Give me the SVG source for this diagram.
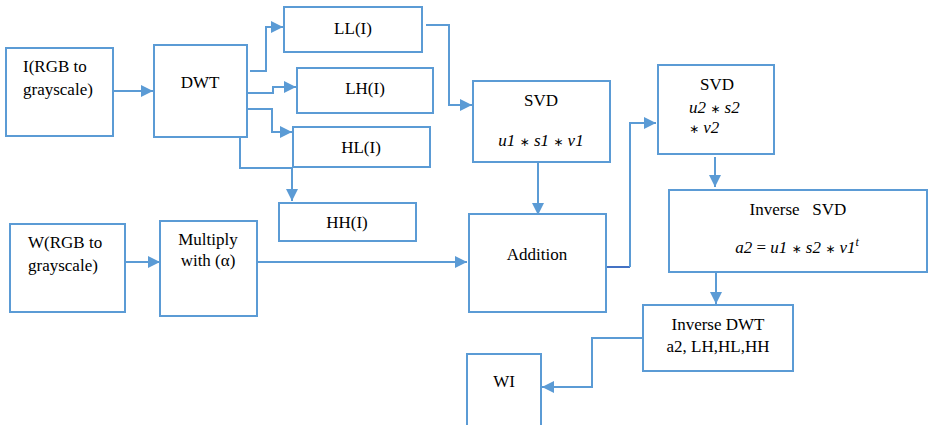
<svg xmlns="http://www.w3.org/2000/svg" width="928" height="425" viewBox="0 0 928 425">
<style>
.box{fill:#fff;stroke:#5B9BD5;stroke-width:2}
.ln{fill:none;stroke:#5B9BD5;stroke-width:2}
text{font-family:'Liberation Serif','Times New Roman','DejaVu Serif',serif;font-size:17px;fill:#000}
.m{font-style:italic}
.op{font-style:normal;font-family:'DejaVu Sans',sans-serif;font-size:12px}
.c{text-anchor:middle}
</style>
<defs>
<marker id="ah" markerUnits="userSpaceOnUse" markerWidth="13" markerHeight="13" refX="12" refY="6" orient="auto">
<path d="M0,0 L12,6 L0,12 z" fill="#5B9BD5"/>
</marker>
</defs>
<rect width="928" height="425" fill="#fff"/>
<g id="connectors">
<path class="ln" d="M113,91 H153" marker-end="url(#ah)"/>
<path class="ln" d="M250,71 H266 V27 H283" marker-end="url(#ah)"/>
<path class="ln" d="M247,93 H273 V87 H296" marker-end="url(#ah)"/>
<path class="ln" d="M247,109 H272 V132 H292" marker-end="url(#ah)"/>
<path class="ln" d="M240,137 V168 H292 V201" marker-end="url(#ah)"/>
<path class="ln" d="M426,25 H449 V105 H472" marker-end="url(#ah)"/>
<path class="ln" d="M538,162 V215" marker-end="url(#ah)"/>
<path class="ln" d="M125,262 H160" marker-end="url(#ah)"/>
<path class="ln" d="M257,262 H467" marker-end="url(#ah)"/>
<path fill="none" stroke="#4472C4" stroke-width="2" d="M606,267 H630"/>
<path class="ln" d="M630,267 V123 H656" marker-end="url(#ah)"/>
<path class="ln" d="M715,157 V187" marker-end="url(#ah)"/>
<path class="ln" d="M716,263 V304" marker-end="url(#ah)"/>
<path class="ln" d="M643,338 H592 V387 H542" marker-end="url(#ah)"/>
</g>
<g id="node-I">
<rect class="box" x="6" y="48" width="107" height="88"/>
<text x="23" y="72">I(RGB to</text>
<text x="23" y="95">grayscale)</text>
</g>
<g id="node-DWT">
<rect class="box" x="154" y="45" width="93" height="92"/>
<text class="c" x="200" y="88">DWT</text>
</g>
<g id="node-LL">
<rect class="box" x="284" y="7" width="138" height="45"/>
<text class="c" x="353" y="34">LL(I)</text>
</g>
<g id="node-LH">
<rect class="box" x="297" y="68" width="136" height="45"/>
<text class="c" x="365" y="94">LH(I)</text>
</g>
<g id="node-HL">
<rect class="box" x="293" y="127" width="137" height="40"/>
<text class="c" x="361" y="153">HL(I)</text>
</g>
<g id="node-HH">
<rect class="box" x="279" y="203" width="137" height="38"/>
<text class="c" x="347" y="228">HH(I)</text>
</g>
<g id="node-SVD1">
<rect class="box" x="473" y="81" width="137" height="81"/>
<text class="c" x="541" y="106">SVD</text>
<text class="m c" x="541" y="146">u1 <tspan class="op">∗</tspan> s1 <tspan class="op">∗</tspan> v1</text>
</g>
<g id="node-W">
<rect class="box" x="10" y="224" width="115" height="88"/>
<text x="28" y="248">W(RGB to</text>
<text x="28" y="271">grayscale)</text>
</g>
<g id="node-Multiply">
<rect class="box" x="160" y="221" width="97" height="95"/>
<text class="c" x="208" y="245">Multiply</text>
<text class="c" x="208" y="266">with (α)</text>
</g>
<g id="node-Addition">
<rect class="box" x="469" y="214" width="137" height="98"/>
<text class="c" x="537" y="260">Addition</text>
</g>
<g id="node-SVD2">
<rect class="box" x="658" y="65" width="116" height="89"/>
<text class="c" x="717" y="90">SVD</text>
<text class="m" x="689" y="113">u2 <tspan class="op">∗</tspan> s2</text>
<text class="m" x="689" y="133"><tspan class="op">∗</tspan> v2</text>
</g>
<g id="node-InvSVD">
<rect class="box" x="669" y="190" width="258" height="82"/>
<text class="c" x="798" y="215" xml:space="preserve">Inverse   SVD</text>
<text class="m c" x="797" y="253">a2 <tspan font-style="normal">=</tspan> u1 <tspan class="op">∗</tspan> s2 <tspan class="op">∗</tspan> v1<tspan font-size="12" dy="-7">t</tspan></text>
</g>
<g id="node-InvDWT">
<rect class="box" x="643" y="305" width="150" height="66"/>
<text class="c" x="718" y="330">Inverse DWT</text>
<text class="c" x="718" y="352">a2, LH,HL,HH</text>
</g>
<g id="node-WI">
<rect class="box" x="467" y="354" width="74" height="80"/>
<text class="c" x="504" y="387">WI</text>
</g>
</svg>
